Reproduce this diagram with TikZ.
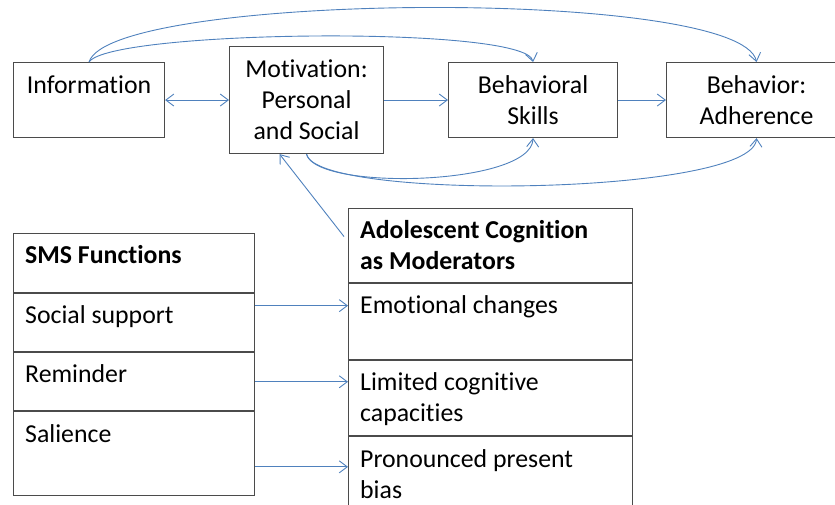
\documentclass[tikz,border=0pt]{standalone}
\usepackage{fontspec}
\setmainfont{Carlito}[Ligatures={NoCommon},RawFeature={-liga;-clig}]
\usepackage{xcolor}
\usepackage{tikz}
\usetikzlibrary{arrows.meta,positioning}

\definecolor{flowblue}{RGB}{79,129,189}
\definecolor{boxgray}{RGB}{75,75,75}

\tikzset{
  box/.style={draw=boxgray,line width=1.1pt,align=center,inner sep=0pt,anchor=north west},
  cell/.style={draw=boxgray,line width=1.1pt,inner sep=0pt,anchor=north west},
  celltext/.style={anchor=north west,align=left,inner xsep=12pt,inner ysep=8.8pt},
  flow/.style={flowblue,line width=0.9pt,-{Straight Barb[length=8pt,width=12pt]}},
  flowboth/.style={flowblue,line width=0.9pt,{Straight Barb[length=8pt,width=12pt]}-{Straight Barb[length=8pt,width=12pt]}},
}

\begin{document}
\begin{tikzpicture}[x=1pt,y=-1pt,font=\fontsize{25.8pt}{31pt}\selectfont]
  \useasboundingbox (0,0) rectangle (835,504);
  \clip (0,0) rectangle (835,504);

  % IMB model boxes
  \node[box,minimum width=151pt,minimum height=75pt] (info) at (13,62) {Information\\~};
  \node[box,minimum width=154pt,minimum height=107pt] (motiv) at (229,46) {Motivation:\\Personal\\and Social};
  \node[box,minimum width=169pt,minimum height=75pt] (skills) at (448,62) {Behavioral\\Skills};
  \node[box,minimum width=180pt,minimum height=75pt] (behav) at (666,62) {Behavior:\\Adherence};

  \draw[flowboth] (info.east) -- (motiv.west);
  \draw[flow] (motiv.east) -- (skills.west);
  \draw[flow] (skills.east) -- (behav.west);
  \draw[flow] (info.north) .. controls +(21,-32) and +(-7,-37) .. (skills.north);
  \draw[flow] (info.north) .. controls +(21,-70) and +(-16,-75) .. (behav.north);
  \draw[flow] (motiv.south) .. controls +(9,37) and +(-2,48) .. (skills.south);
  \draw[flow] (motiv.south) .. controls +(9,47) and +(-4,58) .. (behav.south);

  % SMS functions table
  \node[cell,minimum width=241pt,minimum height=59pt] (sms0) at (13,233) {};
  \node[cell,minimum width=241pt,minimum height=58pt,below=0pt of sms0] (sms1) {};
  \node[cell,minimum width=241pt,minimum height=58pt,below=0pt of sms1] (sms2) {};
  \node[cell,minimum width=241pt,minimum height=84pt,below=0pt of sms2] (sms3) {};
  \node[celltext] (sms0-t) at (sms0.north west) {\strut\bfseries SMS Functions};
  \node[celltext] (sms1-t) at (sms1.north west) {\strut Social support};
  \node[celltext] (sms2-t) at (sms2.north west) {\strut Reminder};
  \node[celltext] (sms3-t) at (sms3.north west) {\strut Salience};

  % moderators table
  \node[cell,minimum width=284pt,minimum height=74pt] (adol0) at (348,208) {};
  \node[cell,minimum width=284pt,minimum height=76pt,below=0pt of adol0] (adol1) {};
  \node[cell,minimum width=284pt,minimum height=75pt,below=0pt of adol1] (adol2) {};
  \node[cell,minimum width=284pt,minimum height=95pt,below=0pt of adol2] (adol3) {};
  \node[celltext] (adol0-t) at (adol0.north west) {\strut\bfseries Adolescent Cognition\\\strut\bfseries as Moderators};
  \node[celltext] (adol1-t) at (adol1.north west) {\strut Emotional changes};
  \node[celltext] (adol2-t) at (adol2.north west) {\strut Limited cognitive\\\strut capacities};
  \node[celltext] (adol3-t) at (adol3.north west) {\strut Pronounced present\\\strut bias};

  \coordinate (modin) at ([xshift=-4pt,yshift=9pt]adol0.west);
  \draw[flow] (modin) -- ([xshift=-27pt]motiv.south);

  \draw[flow] ([yshift=17pt]sms1.east) -- ([yshift=17pt]sms1.east -| adol1.west);
  \draw[flow] (sms2.east) -- (sms2.east -| adol2.west);
  \draw[flow] ([yshift=-13pt]sms3.east) -- ([yshift=-13pt]sms3.east -| adol3.west);
\end{tikzpicture}
\end{document}
